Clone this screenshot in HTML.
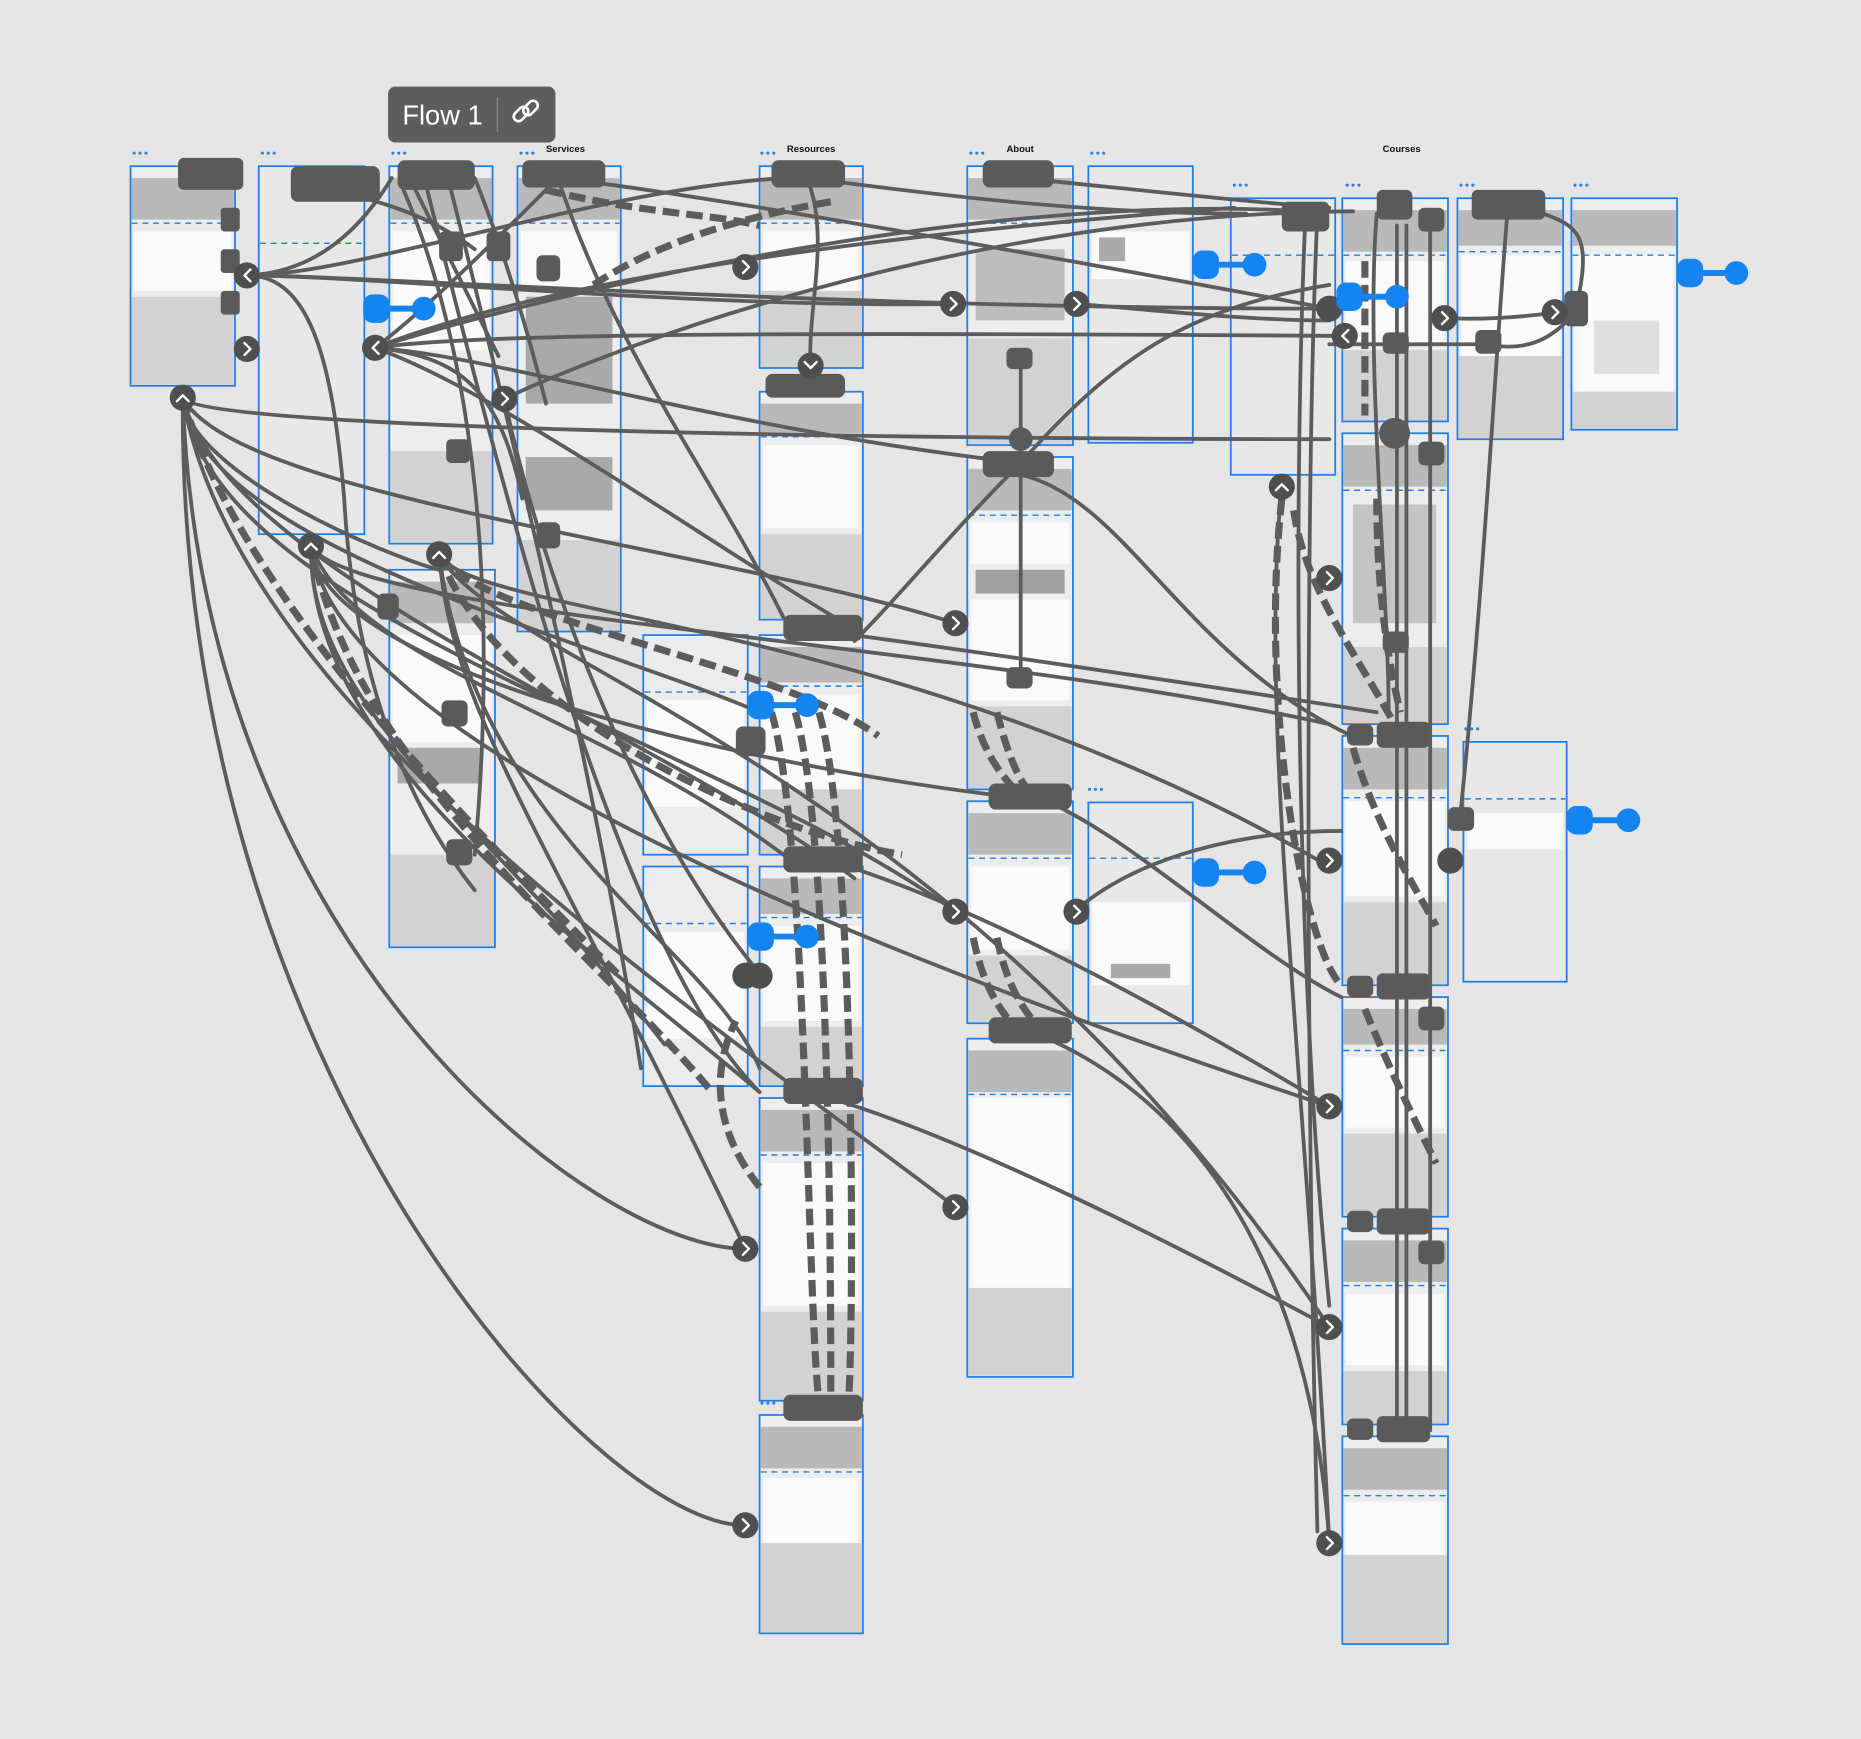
<!DOCTYPE html>
<html><head><meta charset="utf-8"><style>
html,body{margin:0;padding:0;background:#e5e5e5;}
svg{display:block}
</style></head><body>
<svg width="1861" height="1739" viewBox="0 0 1568 1465" preserveAspectRatio="none" xmlns="http://www.w3.org/2000/svg" font-family="Liberation Sans, sans-serif">
<rect width="1568" height="1465" fill="#e5e5e5"/>
<defs>
<g id="dots"><circle cx="0" cy="0" r="1.3" fill="#2a7fe0"/><circle cx="5" cy="0" r="1.3" fill="#2a7fe0"/><circle cx="10" cy="0" r="1.3" fill="#2a7fe0"/></g>
</defs>
<g font-size="8" font-weight="bold" fill="#111">
<text x="460" y="128">Services</text><text x="663" y="128">Resources</text><text x="848" y="128">About</text><text x="1165" y="128">Courses</text>
</g>
<g stroke="#1e7fe6" stroke-width="1.5">
<rect x="110" y="140" width="88" height="185" fill="#ececec"/>
<rect x="218" y="140" width="89" height="310" fill="#e8e8e8"/>
<rect x="328" y="140" width="87" height="318" fill="#ededed"/>
<rect x="436" y="140" width="87" height="392" fill="#ededed"/>
<rect x="328" y="480" width="89" height="318" fill="#ededed"/>
<rect x="640" y="140" width="87" height="170" fill="#ededed"/>
<rect x="640" y="330" width="87" height="192" fill="#ededed"/>
<rect x="640" y="535" width="87" height="185" fill="#ededed"/>
<rect x="640" y="730" width="87" height="185" fill="#ededed"/>
<rect x="640" y="925" width="87" height="255" fill="#ededed"/>
<rect x="640" y="1192" width="87" height="184" fill="#ededed"/>
<rect x="542" y="535" width="88" height="185" fill="#ececec"/>
<rect x="542" y="730" width="88" height="185" fill="#ececec"/>
<rect x="815" y="140" width="89" height="235" fill="#ededed"/>
<rect x="815" y="385" width="89" height="280" fill="#ededed"/>
<rect x="815" y="675" width="89" height="187" fill="#ededed"/>
<rect x="815" y="875" width="89" height="285" fill="#ededed"/>
<rect x="917" y="140" width="88" height="233" fill="#e8e8e8"/>
<rect x="917" y="676" width="88" height="186" fill="#e8e8e8"/>
<rect x="1037" y="167" width="88" height="233" fill="#e8e8e8"/>
<rect x="1131" y="167" width="89" height="188" fill="#ededed"/>
<rect x="1131" y="365" width="89" height="245" fill="#ededed"/>
<rect x="1131" y="620" width="89" height="210" fill="#ededed"/>
<rect x="1131" y="840" width="89" height="185" fill="#ededed"/>
<rect x="1131" y="1035" width="89" height="165" fill="#ededed"/>
<rect x="1131" y="1210" width="89" height="175" fill="#ededed"/>
<rect x="1228" y="167" width="89" height="203" fill="#ededed"/>
<rect x="1324" y="167" width="89" height="195" fill="#ededed"/>
<rect x="1233" y="625" width="87" height="202" fill="#e8e8e8"/>
</g>
<g fill="#b9b9b9">
<rect x="111" y="150" width="86" height="35"/>
<rect x="329" y="150" width="85" height="35"/>
<rect x="437" y="150" width="85" height="35"/>
<rect x="329" y="490" width="87" height="35"/>
<rect x="641" y="150" width="85" height="35"/>
<rect x="641" y="340" width="85" height="25"/>
<rect x="641" y="545" width="85" height="30"/>
<rect x="641" y="740" width="85" height="30"/>
<rect x="641" y="935" width="85" height="35"/>
<rect x="641" y="1202" width="85" height="35"/>
<rect x="816" y="150" width="87" height="35"/>
<rect x="816" y="395" width="87" height="35"/>
<rect x="816" y="685" width="87" height="35"/>
<rect x="816" y="885" width="87" height="35"/>
<rect x="1132" y="177" width="87" height="35"/>
<rect x="1132" y="375" width="87" height="35"/>
<rect x="1132" y="630" width="87" height="35"/>
<rect x="1132" y="850" width="87" height="30"/>
<rect x="1132" y="1045" width="87" height="35"/>
<rect x="1132" y="1220" width="87" height="35"/>
<rect x="1229" y="177" width="87" height="30"/>
<rect x="1325" y="177" width="87" height="30"/>
<rect x="443" y="250" width="73" height="90" fill="#a9a9a9"/>
<rect x="443" y="385" width="73" height="45" fill="#a9a9a9"/>
<rect x="822" y="210" width="75" height="60" fill="#bdbdbd"/>
<rect x="822" y="480" width="75" height="20" fill="#9f9f9f"/>
<rect x="335" y="630" width="70" height="30" fill="#a9a9a9"/>
<rect x="1140" y="425" width="70" height="100" fill="#c4c4c4"/>
</g>
<g fill="#fafafa">
<rect x="113" y="195" width="82" height="50"/>
<rect x="331" y="195" width="81" height="100"/>
<rect x="439" y="195" width="81" height="50"/>
<rect x="331" y="535" width="83" height="90"/>
<rect x="643" y="195" width="81" height="50"/>
<rect x="643" y="375" width="81" height="70"/>
<rect x="643" y="585" width="81" height="80"/>
<rect x="643" y="780" width="81" height="80"/>
<rect x="643" y="980" width="81" height="120"/>
<rect x="643" y="1245" width="81" height="55"/>
<rect x="545" y="590" width="82" height="90"/>
<rect x="545" y="785" width="82" height="90"/>
<rect x="818" y="440" width="83" height="35"/>
<rect x="818" y="505" width="83" height="85"/>
<rect x="818" y="730" width="83" height="70"/>
<rect x="818" y="925" width="83" height="160"/>
<rect x="920" y="195" width="82" height="40"/>
<rect x="920" y="760" width="82" height="70"/>
<rect x="1134" y="220" width="83" height="70"/>
<rect x="1134" y="675" width="83" height="80"/>
<rect x="1134" y="890" width="83" height="60"/>
<rect x="1134" y="1090" width="83" height="60"/>
<rect x="1134" y="1265" width="83" height="45"/>
<rect x="1231" y="215" width="83" height="85"/>
<rect x="1327" y="215" width="83" height="115"/>
<rect x="1236" y="685" width="81" height="30"/>
</g>
<g fill="#d2d2d2">
<rect x="111" y="250" width="86" height="74"/>
<rect x="329" y="380" width="85" height="77"/>
<rect x="437" y="455" width="85" height="76"/>
<rect x="329" y="720" width="87" height="77"/>
<rect x="641" y="245" width="85" height="64"/>
<rect x="641" y="450" width="85" height="71"/>
<rect x="641" y="665" width="85" height="54"/>
<rect x="641" y="865" width="85" height="49"/>
<rect x="641" y="1105" width="85" height="74"/>
<rect x="641" y="1300" width="85" height="75"/>
<rect x="816" y="285" width="87" height="89"/>
<rect x="816" y="595" width="87" height="69"/>
<rect x="816" y="805" width="87" height="56"/>
<rect x="816" y="1085" width="87" height="74"/>
<rect x="1132" y="295" width="87" height="59"/>
<rect x="1132" y="545" width="87" height="64"/>
<rect x="1132" y="760" width="87" height="69"/>
<rect x="1132" y="955" width="87" height="69"/>
<rect x="1132" y="1155" width="87" height="44"/>
<rect x="1132" y="1310" width="87" height="74"/>
<rect x="1229" y="300" width="87" height="69"/>
<rect x="1325" y="330" width="87" height="31"/>
<rect x="926" y="200" width="22" height="20" fill="#aaa"/>
<rect x="1343" y="270" width="55" height="45" fill="#e0e0e0"/>
<rect x="936" y="812" width="50" height="12" fill="#aaa"/>
</g>
<g stroke="#1e7fe6" stroke-width="1.2" stroke-dasharray="5,4">
<line x1="111" y1="188" x2="197" y2="188"/><line x1="219" y1="205" x2="306" y2="205"/>
<line x1="329" y1="188" x2="414" y2="188"/><line x1="437" y1="188" x2="522" y2="188"/>
<line x1="641" y1="188" x2="726" y2="188"/><line x1="641" y1="368" x2="726" y2="368"/>
<line x1="641" y1="578" x2="726" y2="578"/><line x1="641" y1="773" x2="726" y2="773"/>
<line x1="641" y1="973" x2="726" y2="973"/><line x1="641" y1="1240" x2="726" y2="1240"/>
<line x1="543" y1="583" x2="629" y2="583"/><line x1="543" y1="778" x2="629" y2="778"/>
<line x1="816" y1="188" x2="903" y2="188"/><line x1="816" y1="434" x2="903" y2="434"/>
<line x1="816" y1="723" x2="903" y2="723"/><line x1="816" y1="922" x2="903" y2="922"/>
<line x1="918" y1="723" x2="1004" y2="723"/><line x1="1038" y1="215" x2="1124" y2="215"/>
<line x1="1132" y1="215" x2="1219" y2="215"/><line x1="1132" y1="413" x2="1219" y2="413"/>
<line x1="1132" y1="672" x2="1219" y2="672"/><line x1="1132" y1="885" x2="1219" y2="885"/>
<line x1="1132" y1="1083" x2="1219" y2="1083"/><line x1="1132" y1="1260" x2="1219" y2="1260"/>
<line x1="1229" y1="212" x2="1316" y2="212"/><line x1="1325" y1="215" x2="1412" y2="215"/>
<line x1="1234" y1="673" x2="1319" y2="673"/>
</g>
<g>
<use href="#dots" x="113" y="129"/><use href="#dots" x="221" y="129"/><use href="#dots" x="331" y="129"/><use href="#dots" x="439" y="129"/>
<use href="#dots" x="642" y="129"/><use href="#dots" x="818" y="129"/><use href="#dots" x="920" y="129"/><use href="#dots" x="1040" y="156"/>
<use href="#dots" x="1135" y="156"/><use href="#dots" x="1231" y="156"/><use href="#dots" x="1327" y="156"/><use href="#dots" x="1235" y="614"/>
<use href="#dots" x="545" y="524"/><use href="#dots" x="918" y="665"/><use href="#dots" x="642" y="1182"/>
</g>
<g fill="none" stroke="#5c5c5c" stroke-width="3.2" stroke-linecap="round">
<path d="M154 335 C150 900 500 1285 628 1285"/>
<path d="M154 335 C170 800 500 1052 628 1052"/>
<path d="M154 335 C200 600 600 860 805 1017"/>
<path d="M154 335 C180 520 600 620 805 768"/>
<path d="M154 335 C200 420 600 460 805 525"/>
<path d="M154 335 C160 360 700 370 1120 370"/>
<path d="M154 335 C170 460 500 540 640 600"/>
<path d="M154 335 C190 480 560 620 720 740"/>
<path d="M154 335 C160 400 330 470 370 480"/>
<path d="M262 460 C260 640 500 800 640 920"/>
<path d="M262 460 C270 560 600 640 840 670"/>
<path d="M262 460 C300 520 800 540 1120 610"/>
<path d="M262 460 C280 600 600 760 1120 932"/>
<path d="M262 460 C300 560 500 600 660 720"/>
<path d="M262 460 C260 600 420 700 560 880"/>
<path d="M370 467 C380 600 460 700 628 1052"/>
<path d="M370 467 C400 520 760 520 1120 730"/>
<path d="M370 467 C420 560 800 640 1120 1118"/>
<path d="M370 467 C400 700 600 800 640 900"/>
<path d="M208 232 C300 232 500 160 660 150"/>
<path d="M208 232 C300 232 600 260 803 256"/>
<path d="M208 232 C300 232 700 260 1120 260"/>
<path d="M208 232 C260 230 300 200 330 150"/>
<path d="M208 232 C260 232 280 300 290 420 C300 600 360 700 400 750"/>
<path d="M316 293 C400 280 700 280 1133 283"/>
<path d="M316 293 C420 260 800 160 1100 178"/>
<path d="M316 293 C450 240 700 200 1040 175"/>
<path d="M316 293 C420 300 600 360 860 390"/>
<path d="M316 293 C420 330 600 460 720 530"/>
<path d="M316 293 C360 260 420 200 470 150"/>
<path d="M316 293 C380 300 420 320 440 420"/>
<path d="M425 336 C500 300 800 180 1140 178"/>
<path d="M425 336 C460 500 540 700 640 820"/>
<path d="M340 160 C400 300 420 500 400 720"/>
<path d="M360 160 C420 400 520 800 640 920"/>
<path d="M380 160 C440 400 500 650 540 900"/>
<path d="M350 160 C380 220 400 260 420 300"/>
<path d="M400 150 C420 200 440 260 460 340"/>
<path d="M280 160 C320 170 360 180 400 210"/>
<path d="M470 150 C520 300 600 400 660 520"/>
<path d="M470 150 C560 160 800 200 1120 260"/>
<path d="M680 150 C700 200 680 260 683 308"/>
<path d="M680 150 C760 160 900 180 1050 180"/>
<path d="M860 150 C960 160 1050 170 1120 175"/>
<path d="M860 300 L860 385"/>
<path d="M860 400 L860 575"/>
<path d="M860 390 C800 450 760 500 720 540"/>
<path d="M860 390 C940 300 1000 260 1120 240"/>
<path d="M907 256 C960 260 1050 270 1120 270"/>
<path d="M860 400 C950 420 1000 560 1150 625"/>
<path d="M870 670 C950 700 1050 800 1130 840"/>
<path d="M870 870 C950 900 1100 1000 1120 1300"/>
<path d="M905 768 C960 720 1050 700 1130 700"/>
<path d="M680 530 C760 540 900 560 1160 600"/>
<path d="M680 720 C760 740 900 800 1120 932"/>
<path d="M680 920 C760 940 900 1000 1120 1118"/>
<path d="M1080 410 C1060 600 1100 900 1120 1300"/>
<path d="M1110 180 C1100 400 1100 900 1110 1290"/>
<path d="M1100 180 C1090 400 1090 800 1120 1100"/>
<path d="M1177 190 L1177 1205"/>
<path d="M1185 190 L1185 1205"/>
<path d="M1205 190 L1205 1205"/>
<path d="M1160 180 C1150 300 1170 500 1170 600"/>
<path d="M1270 180 C1260 300 1250 500 1230 690"/>
<path d="M1217 268 C1260 270 1300 265 1320 262"/>
<path d="M1120 290 L1250 290"/>
<path d="M1253 290 C1300 300 1320 270 1330 260"/>
<path d="M1300 180 C1330 190 1340 200 1330 250"/>
</g>
<g fill="none" stroke="#5c5c5c" stroke-width="6" stroke-dasharray="14,6">
<path d="M154 335 C200 500 400 700 520 820"/>
<path d="M262 460 C300 650 500 800 600 920"/>
<path d="M370 467 C400 520 660 560 740 620"/>
<path d="M370 467 C420 600 640 700 760 720"/>
<path d="M460 160 C540 180 600 180 640 190"/>
<path d="M500 240 C560 200 640 180 700 170"/>
<path d="M1080 420 C1060 600 1100 800 1130 830"/>
<path d="M1090 430 C1100 500 1150 560 1180 620"/>
<path d="M1140 630 C1160 700 1200 760 1210 780"/>
<path d="M1150 850 C1170 900 1200 960 1210 980"/>
<path d="M650 600 C680 700 680 1100 690 1180"/>
<path d="M670 600 C700 700 700 1100 700 1180"/>
<path d="M690 600 C720 700 720 1100 715 1180"/>
<path d="M640 1000 C600 950 600 900 620 860"/>
<path d="M820 600 C830 640 850 660 860 670"/>
<path d="M840 600 C850 640 860 660 870 670"/>
<path d="M820 790 C830 840 850 860 860 870"/>
<path d="M840 790 C850 840 870 860 880 870"/>
<path d="M1150 220 L1150 350"/>
<path d="M1160 420 C1160 500 1170 560 1180 600"/>
</g>
<g fill="#5a5a5a">
<rect x="150" y="133" width="55" height="27" rx="5"/>
<rect x="245" y="140" width="75" height="30" rx="6"/>
<rect x="335" y="135" width="65" height="25" rx="6"/>
<rect x="440" y="135" width="70" height="23" rx="6"/>
<rect x="650" y="135" width="62" height="23" rx="6"/>
<rect x="828" y="135" width="60" height="23" rx="6"/>
<rect x="645" y="315" width="67" height="20" rx="6"/>
<rect x="828" y="380" width="60" height="22" rx="6"/>
<rect x="660" y="518" width="67" height="22" rx="6"/>
<rect x="833" y="660" width="70" height="22" rx="6"/>
<rect x="660" y="713" width="67" height="22" rx="6"/>
<rect x="660" y="908" width="67" height="22" rx="6"/>
<rect x="833" y="857" width="70" height="22" rx="6"/>
<rect x="660" y="1175" width="67" height="22" rx="6"/>
<rect x="1160" y="160" width="30" height="25" rx="5"/>
<rect x="1240" y="160" width="62" height="25" rx="5"/>
<rect x="1080" y="170" width="40" height="25" rx="5"/>
<rect x="1160" y="608" width="45" height="22" rx="5"/>
<rect x="1160" y="820" width="45" height="22" rx="5"/>
<rect x="1160" y="1018" width="45" height="22" rx="5"/>
<rect x="1160" y="1193" width="45" height="22" rx="5"/>
<rect x="370" y="195" width="20" height="25" rx="4"/>
<rect x="410" y="195" width="20" height="25" rx="4"/>
<rect x="376" y="370" width="20" height="20" rx="4"/>
<rect x="376" y="707" width="22" height="22" rx="5"/>
<rect x="186" y="175" width="16" height="20" rx="3"/>
<rect x="186" y="210" width="16" height="20" rx="3"/>
<rect x="186" y="245" width="16" height="20" rx="3"/>
<rect x="848" y="293" width="22" height="18" rx="5"/>
<rect x="848" y="562" width="22" height="18" rx="5"/>
<rect x="1165" y="280" width="22" height="18" rx="5"/>
<rect x="1195" y="175" width="22" height="20" rx="5"/>
<rect x="1195" y="372" width="22" height="20" rx="5"/>
<rect x="1195" y="848" width="22" height="20" rx="5"/>
<rect x="1195" y="1045" width="22" height="20" rx="5"/>
<rect x="1165" y="532" width="22" height="18" rx="5"/>
<rect x="1135" y="610" width="22" height="18" rx="5"/>
<rect x="1135" y="822" width="22" height="18" rx="5"/>
<rect x="1135" y="1020" width="22" height="18" rx="5"/>
<rect x="1135" y="1195" width="22" height="18" rx="5"/>
<rect x="1243" y="278" width="22" height="20" rx="5"/>
<rect x="1318" y="245" width="20" height="30" rx="5"/>
<rect x="1220" y="680" width="22" height="20" rx="5"/>
<rect x="452" y="440" width="20" height="22" rx="5"/>
<rect x="620" y="612" width="25" height="25" rx="6"/>
<rect x="318" y="500" width="18" height="22" rx="5"/>
<rect x="372" y="590" width="22" height="22" rx="5"/>
<rect x="452" y="215" width="20" height="22" rx="5"/>
<circle cx="860" cy="370" r="10"/>
<circle cx="1175" cy="365" r="13"/>
</g>
<g fill="#4f4f4f">
<circle cx="208" cy="232" r="11"/><circle cx="208" cy="294" r="11"/><circle cx="316" cy="293" r="11"/><circle cx="425" cy="336" r="11"/>
<circle cx="628" cy="225" r="11"/><circle cx="803" cy="256" r="11"/><circle cx="907" cy="256" r="11"/><circle cx="805" cy="525" r="11"/>
<circle cx="805" cy="768" r="11"/><circle cx="907" cy="768" r="11"/><circle cx="628" cy="1052" r="11"/><circle cx="805" cy="1017" r="11"/>
<circle cx="628" cy="1285" r="11"/><circle cx="1120" cy="1300" r="11"/><circle cx="1120" cy="1118" r="11"/><circle cx="1120" cy="932" r="11"/>
<circle cx="1120" cy="725" r="11"/><circle cx="1120" cy="487" r="11"/><circle cx="1217" cy="268" r="11"/><circle cx="1310" cy="263" r="11"/>
<circle cx="154" cy="335" r="11"/><circle cx="262" cy="460" r="11"/><circle cx="370" cy="467" r="11"/><circle cx="1080" cy="410" r="11"/>
<circle cx="683" cy="308" r="11"/><circle cx="1133" cy="283" r="11"/><circle cx="1120" cy="260" r="11"/><circle cx="1222" cy="725" r="11"/>
<circle cx="628" cy="822" r="11"/><circle cx="640" cy="822" r="11"/>
</g>
<g fill="none" stroke="#fff" stroke-width="2" stroke-linecap="round" stroke-linejoin="round">
<path d="M211 227 l-5 5 5 5"/><path d="M206 289 l5 5 -5 5"/><path d="M319 288 l-5 5 5 5"/><path d="M423 331 l5 5 -5 5"/>
<path d="M626 220 l5 5 -5 5"/><path d="M801 251 l5 5 -5 5"/><path d="M905 251 l5 5 -5 5"/><path d="M803 520 l5 5 -5 5"/>
<path d="M803 763 l5 5 -5 5"/><path d="M905 763 l5 5 -5 5"/><path d="M626 1047 l5 5 -5 5"/><path d="M803 1012 l5 5 -5 5"/>
<path d="M626 1280 l5 5 -5 5"/><path d="M1118 1295 l5 5 -5 5"/><path d="M1118 1113 l5 5 -5 5"/><path d="M1118 927 l5 5 -5 5"/>
<path d="M1118 720 l5 5 -5 5"/><path d="M1118 482 l5 5 -5 5"/><path d="M1215 263 l5 5 -5 5"/><path d="M1308 258 l5 5 -5 5"/>
<path d="M149 338 l5 -5 5 5"/><path d="M257 463 l5 -5 5 5"/><path d="M365 470 l5 -5 5 5"/><path d="M1075 413 l5 -5 5 5"/>
<path d="M678 305 l5 5 5 -5"/><path d="M1136 278 l-5 5 5 5"/>
</g>
<g fill="#1484f0" stroke="#1484f0">
<rect x="1005" y="211" width="22" height="24" rx="8" stroke="none"/><line x1="1020" y1="223" x2="1057" y2="223" stroke-width="5"/><circle cx="1057" cy="223" r="10" stroke="none"/>
<rect x="1126" y="238" width="22" height="24" rx="8" stroke="none"/><line x1="1140" y1="250" x2="1177" y2="250" stroke-width="5"/><circle cx="1177" cy="250" r="10" stroke="none"/>
<rect x="1413" y="218" width="22" height="24" rx="8" stroke="none"/><line x1="1425" y1="230" x2="1463" y2="230" stroke-width="5"/><circle cx="1463" cy="230" r="10" stroke="none"/>
<rect x="306" y="248" width="22" height="24" rx="8" stroke="none"/><line x1="320" y1="260" x2="357" y2="260" stroke-width="5"/><circle cx="357" cy="260" r="10" stroke="none"/>
<rect x="630" y="582" width="22" height="24" rx="8" stroke="none"/><line x1="645" y1="594" x2="680" y2="594" stroke-width="5"/><circle cx="680" cy="594" r="10" stroke="none"/>
<rect x="630" y="777" width="22" height="24" rx="8" stroke="none"/><line x1="645" y1="789" x2="680" y2="789" stroke-width="5"/><circle cx="680" cy="789" r="10" stroke="none"/>
<rect x="1005" y="723" width="22" height="24" rx="8" stroke="none"/><line x1="1020" y1="735" x2="1057" y2="735" stroke-width="5"/><circle cx="1057" cy="735" r="10" stroke="none"/>
<rect x="1320" y="679" width="22" height="24" rx="8" stroke="none"/><line x1="1335" y1="691" x2="1372" y2="691" stroke-width="5"/><circle cx="1372" cy="691" r="10" stroke="none"/>
</g>
<rect x="327" y="73" width="141" height="47" rx="6" fill="#5d5d5d"/>
<text x="339" y="105" font-size="23" fill="#fff">Flow 1</text>
<line x1="419" y1="82" x2="419" y2="111" stroke="#888" stroke-width="1"/>
<g fill="none" stroke="#fff" stroke-width="2.2" stroke-linecap="round">
<rect x="432" y="92" width="14" height="8" rx="4" transform="rotate(-45 439 96)"/>
<rect x="440" y="87" width="14" height="8" rx="4" transform="rotate(-45 447 91)"/>
</g>
</svg>
</body></html>
